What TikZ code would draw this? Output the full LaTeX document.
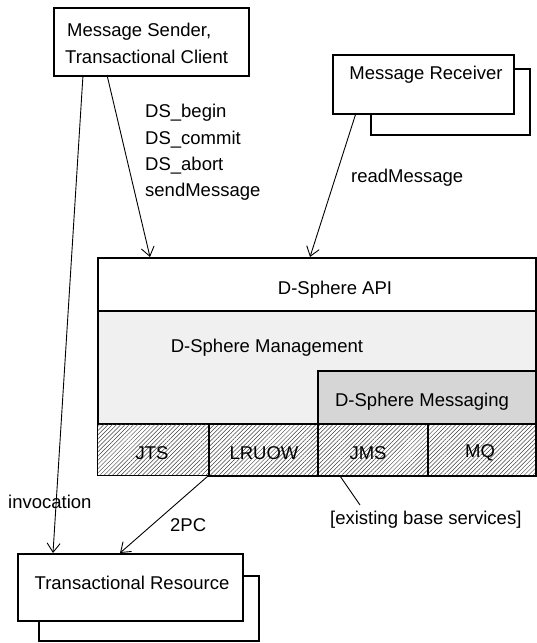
\documentclass[tikz,border=0pt]{standalone}
\usepackage{fontspec}
\setmainfont{Liberation Sans}
\usetikzlibrary{arrows.meta,patterns.meta}
\begin{document}
\begin{tikzpicture}[x=1pt,y=-1pt,
  box/.style={draw, line width=1.5pt, fill=white, anchor=north west, inner sep=0pt},
  layer/.style={draw, line width=1.5pt, anchor=north west, inner sep=0pt},
  lbl/.style={font=\fontsize{18.5}{22}\selectfont, inner sep=0pt},
  arr/.style={line width=0.9pt, -{Straight Barb[length=9pt,width=13pt,line width=0.9pt]}},
  hatch/.style={pattern={Lines[angle=45,distance=3pt,line width=0.5pt]}, pattern color=black!75},
]
\useasboundingbox (0,0) rectangle (537,643);

% sender
\node[box, line width=2pt, minimum width=195, minimum height=68] (sender) at (53,7) {};
\node[lbl, anchor=west] (sendtxt1) at (67,32) {Message Sender,};
\node[lbl, anchor=west] (sendtxt2) at (65,57) {Transactional Client};

% receiver (stacked)
\node[box, minimum width=159, minimum height=66] (recvback) at (370,68) {};
\node[box, minimum width=181, minimum height=59] (recv) at (332,54) {};
\node[lbl] (recvtxt) at (426,75) {Message Receiver};

% D-Sphere layers
\node[layer, fill=white, minimum width=438, minimum height=53] (api) at (97,257) {};
\node[layer, fill=gray!12, minimum width=438, minimum height=113] (mgmt) at (97,310) {};
\node[layer, fill=gray!32, minimum width=218, minimum height=53] (msg) at (317,370) {};
\node[layer, hatch, minimum width=111, minimum height=52] (jts) at (97,423) {};
\node[layer, hatch, minimum width=109, minimum height=52] (lruow) at (208,423) {};
\node[layer, hatch, minimum width=110, minimum height=52] (jms) at (317,423) {};
\node[layer, hatch, minimum width=108, minimum height=52] (mq) at (427,423) {};

\node[lbl] (apitxt) at (335,290) {D-Sphere API};
\node[lbl] (mgmttxt) at (267,348) {D-Sphere Management};
\node[lbl] (msgtxt) at (422,402) {D-Sphere Messaging};
\node[lbl] (jtstxt) at (152,453) {JTS};
\node[lbl] (lruowtxt) at (264,453) {LRUOW};
\node[lbl] (jmstxt) at (368,453) {JMS};
\node[lbl] (mqtxt) at (480,453) {MQ};

% transactional resource (stacked)
\node[box, minimum width=220, minimum height=65] (resback) at (38,575) {};
\node[box, minimum width=225, minimum height=67] (res) at (17,553) {};
\node[lbl] (restxt) at (132,583) {Transactional Resource};

% connector end points
\coordinate (sA) at (107,75);
\coordinate (sB) at (83,75);
\coordinate (apiA) at (150,257);
\coordinate (apiB) at (310,257);
\coordinate (rA) at (356,113);
\coordinate (resA) at (53,553);
\coordinate (resB) at (120,553);
\coordinate (baseA) at (208,476);
\coordinate (baseB) at (340,476);
\coordinate (noteA) at (360,505);

\draw[arr] (sA) -- (apiA);
\draw[arr] (rA) -- (apiB);
\draw[arr] (sB) -- (resA);
\draw[arr] (baseA) -- (resB);
\draw[line width=0.9pt] (baseB) -- (noteA);

% labels
\node[lbl, anchor=west] (l1) at (145,113) {DS\_begin};
\node[lbl, anchor=west] (l2) at (145,140) {DS\_commit};
\node[lbl, anchor=west] (l3) at (145,166) {DS\_abort};
\node[lbl, anchor=west] (l4) at (145,192) {sendMessage};
\node[lbl, anchor=west] (l5) at (351,178) {readMessage};
\node[lbl, anchor=west] (l6) at (8,502) {invocation};
\node[lbl, anchor=west] (l7) at (170,525) {2PC};
\node[lbl, anchor=west] (l8) at (330,520) {[existing base services]};
\end{tikzpicture}
\end{document}
